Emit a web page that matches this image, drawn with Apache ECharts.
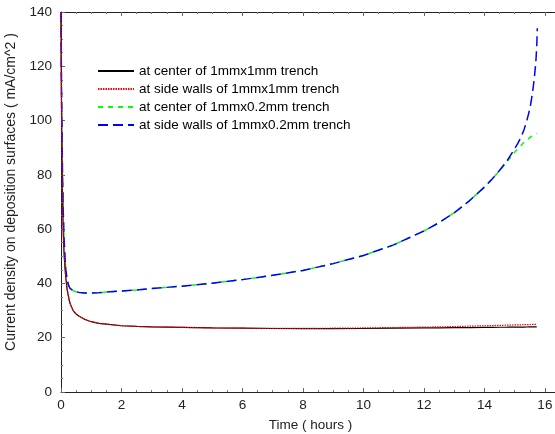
<!DOCTYPE html>
<html><head><meta charset="utf-8">
<script src="https://cdn.jsdelivr.net/npm/echarts@6/dist/echarts.min.js"></script>
<style>html,body{margin:0;padding:0;background:#fff}#c{width:555px;height:434px}</style>
</head><body><div id="c"></div>
<script>
// time (hours) samples shared by all four curves
const times = [0,0.01,0.02,0.04,0.06,0.08,0.1,0.13,0.16,0.2,0.25,0.3,0.4,0.5,0.6,0.8,1,1.25,1.5,2,2.5,3,4,5,
  6,7,8,9,10,11,12,12.5,13,13.5,14,14.25,14.5,14.75,15,15.1,15.2,15.3,15.4,15.5,15.55,15.6,15.65,15.7,15.73,15.75];
const centerWide = [140,118,100,80,66,57,51.5,46,42,38,35,32.6,30,28.7,27.9,26.7,25.9,25.3,25.0,24.4,24.15,24.0,23.8,23.6,
  23.5,23.4,23.35,23.35,23.4,23.5,23.6,23.65,23.7,23.75,23.8,23.82,23.85,23.87,23.9,23.91,23.92,23.93,23.94,23.96,23.97,23.97,23.98,23.99,24.0,24.0];
const sideWide = [140,118,100,80,66,57,51.5,46,42,38,35,32.6,30,28.7,27.9,26.7,25.9,25.3,25.0,24.4,24.15,24.0,23.8,23.6,
  23.5,23.45,23.45,23.5,23.6,23.75,23.9,24.0,24.1,24.25,24.4,24.47,24.55,24.62,24.7,24.73,24.76,24.8,24.83,24.86,24.88,24.9,24.93,24.95,24.98,25.0];
const centerNarrow = [140,122,108,88,74,64,57,50,45,41.5,39.3,38.2,37.3,36.9,36.7,36.5,36.5,36.6,36.8,37.2,37.6,38.1,39,40.1,
  41.4,43,44.8,47.3,50.3,54.2,59.3,62.4,66,70.4,75.5,78.4,81.5,84.9,88.3,89.5,90.7,91.8,92.8,93.7,94.1,94.5,94.8,95.1,95.3,95.4];
const sideNarrow = [140,122,108,88,74,64,57,50,45,41.5,39.3,38.2,37.3,36.9,36.7,36.5,36.5,36.6,36.8,37.2,37.6,38.1,39,40.1,
  41.4,43,44.8,47.3,50.3,54.2,59.3,62.4,66,70.4,75.5,78.4,81.6,85.2,89.6,91.5,93.6,96.3,99.8,104.2,107.3,111,115.5,121.5,127,134];
const names = ['at center of 1mmx1mm trench','at side walls of 1mmx1mm trench','at center of 1mmx0.2mm trench','at side walls of 1mmx0.2mm trench'];
const xTicks = {min:0, max:16.5, interval:2};
const yTicks = {min:0, max:140, interval:20};

const zip = (t, v) => t.map((x, i) => [x, v[i]]);
const font = 'Liberation Sans, Arial, Helvetica, sans-serif';
const fs = 13.5;
const chart = echarts.init(document.getElementById('c'), null, {renderer:'canvas'});
const axisCommon = {
  axisLine:{show:true, onZero:false, lineStyle:{color:'#222', width:1}},
  axisTick:{show:true, inside:true, length:4, lineStyle:{color:'#666'}},
  minorTick:{show:true, splitNumber:4, length:2, lineStyle:{color:'#777'}},
  splitLine:{show:false}
};
chart.setOption({
  animation:false,
  textStyle:{fontFamily:font},
  grid:{left:61, right:-5, top:12, bottom:42, containLabel:false, outerBoundsMode:'none'},
  legend:{
    orient:'vertical', left:97, top:64, padding:0, itemWidth:36, itemHeight:12, itemGap:4,
    itemStyle:{opacity:0},
    textStyle:{fontSize:fs, color:'#000', fontFamily:font},
    data:names
  },
  xAxis:[
    Object.assign({type:'value', position:'bottom', min:xTicks.min, max:xTicks.max, interval:xTicks.interval,
      name:'Time ( hours )', nameLocation:'middle', nameGap:26,
      nameTextStyle:{fontSize:fs, color:'#222', fontFamily:font},
      axisLabel:{fontSize:fs, color:'#222', margin:6, showMaxLabel:false, fontFamily:font}}, axisCommon),
    Object.assign({type:'value', position:'top', min:xTicks.min, max:xTicks.max, interval:xTicks.interval,
      axisLabel:{show:false}}, axisCommon)
  ],
  yAxis:[
    Object.assign({type:'value', min:yTicks.min, max:yTicks.max, interval:yTicks.interval,
      name:'Current density on deposition surfaces ( mA/cm^2 )', nameLocation:'middle', nameGap:39,
      nameTextStyle:{fontSize:14, color:'#222', fontFamily:font, padding:[0,0,0,20]},
      axisLabel:{fontSize:fs, color:'#222', margin:9, fontFamily:font}}, axisCommon)
  ],
  series:[
    {name:names[0], type:'line', data:zip(times, centerWide), showSymbol:false, symbol:'none', smooth:false,
      lineStyle:{color:'#000', width:1.2, type:'solid'}, itemStyle:{color:'#000'}, z:3},
    {name:names[1], type:'line', data:zip(times, sideWide), showSymbol:false, symbol:'none', smooth:false,
      lineStyle:{color:'#ff0000', width:1.2, type:[1.5,1]}, itemStyle:{color:'#ff0000'}, z:4},
    {name:names[2], type:'line', data:zip(times, centerNarrow), showSymbol:false, symbol:'none', smooth:false,
      lineStyle:{color:'#00ff00', width:1.5, type:[5,5]}, itemStyle:{color:'#00ff00'}, z:2},
    {name:names[3], type:'line', data:zip(times, sideNarrow), showSymbol:false, symbol:'none', smooth:false,
      lineStyle:{color:'#0000ff', width:1.5, type:[10,5]}, itemStyle:{color:'#0000ff'}, z:3}
  ]
});
</script></body></html>
